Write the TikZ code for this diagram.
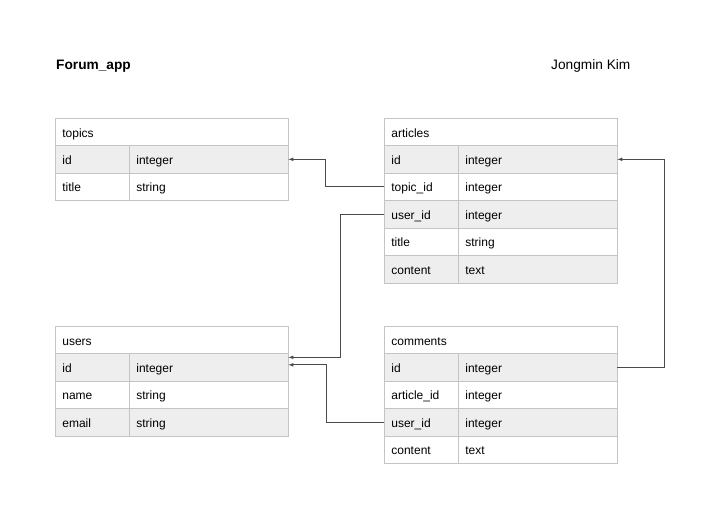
\documentclass[tikz,border=0pt]{standalone}
\usepackage{fontspec}
\setmainfont{Liberation Sans}
\usetikzlibrary{arrows,matrix,positioning}
\definecolor{cellgray}{HTML}{EEEEEE}
\definecolor{cellline}{HTML}{C4C4C4}
\definecolor{linkgray}{HTML}{4A4A4A}

\begin{document}
\begin{tikzpicture}[x=1pt,y=1pt,
  cell/.style={draw=cellline,line width=0.8pt,inner xsep=7pt,inner ysep=0pt,align=left,anchor=center,
    font=\fontsize{12}{14}\selectfont,text height=11.5pt,text depth=2pt},
  head/.style={cell,minimum height=28pt,text width=219pt,anchor=north west},
  tbl/.style={matrix of nodes,anchor=north west,inner sep=0pt,outer sep=0pt,column sep=-0.8pt,row sep=-0.8pt,
    nodes={cell,minimum height=27.5pt},
    column 1/.style={nodes={text width=60pt}},
    column 2/.style={nodes={text width=145pt}},
    every odd row/.style={nodes={fill=cellgray}}},
  link/.style={draw=linkgray,line width=0.7pt,-latex},
  title/.style={anchor=west,inner sep=0pt,font=\fontsize{13.7}{16}\selectfont}]

\useasboundingbox (0,0) rectangle (701,508);

\node[title,font=\bfseries\fontsize{13.7}{16}\selectfont] (appname) at (56,442) {Forum\_app};
\node[title] (author) at (551,442) {Jongmin Kim};

\node[head] (topics-head) at (55,390) {topics};
\matrix (topics) at (55,362.8) [tbl]{
id & integer \\
title & string \\
};

\node[head] (articles-head) at (384,390) {articles};
\matrix (articles) at (384,362.8) [tbl]{
id & integer \\
topic\_id & integer \\
user\_id & integer \\
title & string \\
content & text \\
};

\node[head] (users-head) at (55,182) {users};
\matrix (users) at (55,154.8) [tbl]{
id & integer \\
name & string \\
email & string \\
};

\node[head] (comments-head) at (384,182) {comments};
\matrix (comments) at (384,154.8) [tbl]{
id & integer \\
article\_id & integer \\
user\_id & integer \\
content & text \\
};

\draw[link] (articles-2-1.west) -- ++(-59,0) |- (topics-1-2.east);
\draw[link] (articles-3-1.west) -- ++(-44,0) |- ([yshift=10pt]users-1-2.east);
\draw[link] (comments-3-1.west) -- ++(-58,0) |- ([yshift=2.5pt]users-1-2.east);
\draw[link] (comments-1-2.east) -- ++(47,0) |- (articles-1-2.east);
\end{tikzpicture}
\end{document}
